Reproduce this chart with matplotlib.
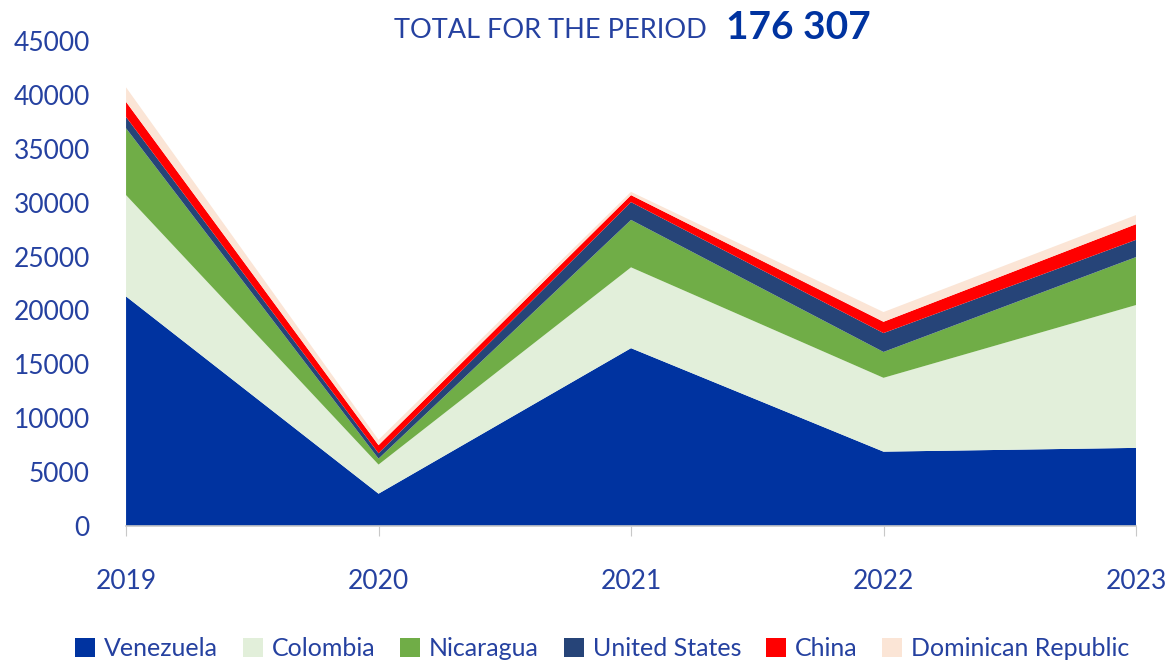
import matplotlib
matplotlib.use("Agg")
import matplotlib.pyplot as plt
from matplotlib.patches import Patch

# values (stacked, bottom to top)
years = [2019, 2020, 2021, 2022, 2023]
venezuela = [21300, 3000, 16500, 6900, 7250]
colombia = [9400, 2700, 7500, 6850, 13250]
nicaragua = [6200, 550, 4400, 2400, 4450]
united_states = [1050, 500, 1650, 1750, 1600]
china = [1400, 750, 650, 1050, 1450]
dominican_rep = [1350, 500, 300, 900, 850]

countries = ["Venezuela", "Colombia", "Nicaragua", "United States", "China", "Dominican Republic"]
colors = ["#0033a0", "#e2efda", "#70ad47", "#264478", "#ff0000", "#fbe5d6"]
yticks = list(range(0, 45001, 5000))
total_label = "176 307"

TXT = "#2541a0"
plt.rcParams["font.family"] = ["Lato", "DejaVu Sans"]

fig = plt.figure(figsize=(11.65, 6.63), dpi=100)
ax = fig.add_axes([0.1082, 0.2066, 0.8669, 0.7316])

ax.stackplot(years, venezuela, colombia, nicaragua, united_states, china, dominican_rep,
             colors=colors, linewidth=0)

ax.set_xlim(years[0], years[-1])
ax.set_ylim(0, 45000)
ax.set_xticks(years)
ax.set_yticks(yticks)
ax.tick_params(axis="y", length=0, labelsize=19, labelcolor=TXT, pad=26)
ax.tick_params(axis="x", length=7, color="#c8c8c8", labelsize=19, labelcolor=TXT, pad=24)
for s in ("top", "right", "left"):
    ax.spines[s].set_visible(False)
ax.spines["bottom"].set_color("#c8c8c8")
ax.spines["bottom"].set_linewidth(1.2)

fig.text(0.607, 0.954, "TOTAL FOR THE PERIOD", ha="right", va="center",
         fontsize=19.5, color=TXT)
fig.text(0.623, 0.958, total_label, ha="left", va="center",
         fontsize=28, color="#0033a0", fontweight="bold")

handles = [Patch(facecolor=c, edgecolor="none") for c in colors]
fig.legend(handles, countries, loc="center", bbox_to_anchor=(0.517, 0.022), ncol=6,
           frameon=False, fontsize=18, labelcolor=TXT, handlelength=0.8, handleheight=0.8,
           handletextpad=0.35, columnspacing=1.0)

fig.savefig("out.png", dpi=100)
